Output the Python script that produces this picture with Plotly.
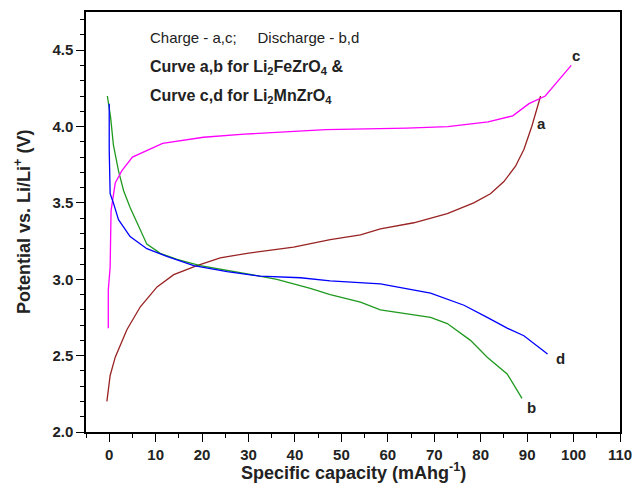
import plotly.graph_objects as go

# Curve a: charge, Li2FeZrO4
a_x = [-0.5, 0.2, 1.3, 3.8, 6.7, 10.3, 13.9, 18.9, 23.9, 29.7, 39.7, 47.6, 54.1, 58.4, 65.6, 72.8, 78.5, 82.1, 85.0, 87.5, 89.3, 91.0, 92.9]
a_y = [2.20, 2.37, 2.49, 2.67, 2.82, 2.95, 3.03, 3.09, 3.14, 3.17, 3.21, 3.26, 3.29, 3.33, 3.37, 3.43, 3.50, 3.56, 3.64, 3.74, 3.85, 4.00, 4.20]

# Curve b: discharge, Li2FeZrO4
b_x = [-0.4, 0.3, 0.9, 2.0, 3.1, 4.5, 6.0, 8.1, 11.0, 14.6, 19.6, 25.4, 31.1, 36.1, 43.3, 47.6, 54.1, 58.4, 69.2, 72.8, 77.8, 81.4, 85.7, 88.9]
b_y = [4.20, 4.06, 3.88, 3.71, 3.58, 3.47, 3.37, 3.23, 3.17, 3.13, 3.09, 3.06, 3.03, 3.00, 2.94, 2.90, 2.85, 2.80, 2.75, 2.71, 2.60, 2.49, 2.38, 2.22]

# Curve c: charge, Li2MnZrO4
c_x = [-0.2, -0.2, 0.2, 0.4, 1.3, 2.7, 5.0, 8.8, 11.5, 20.3, 29.1, 46.6, 64.1, 72.9, 81.6, 86.9, 90.4, 93.9, 99.5]
c_y = [2.68, 2.93, 3.08, 3.45, 3.63, 3.71, 3.80, 3.85, 3.89, 3.93, 3.95, 3.98, 3.99, 4.00, 4.03, 4.07, 4.15, 4.20, 4.40]

# Curve d: discharge, Li2MnZrO4
d_x = [0.0, 0.0, 0.2, 0.9, 2.0, 4.5, 8.1, 12.4, 18.2, 25.4, 32.5, 41.2, 47.6, 58.4, 69.2, 76.4, 81.4, 85.7, 89.3, 94.4]
d_y = [4.15, 3.85, 3.56, 3.50, 3.39, 3.28, 3.20, 3.15, 3.09, 3.05, 3.02, 3.01, 2.99, 2.97, 2.91, 2.83, 2.75, 2.68, 2.63, 2.51]

curve_labels = ["a", "b", "c", "d"]
colors = ["#992222", "#1f9a1f", "#ff00ff", "#0000ff"]

x_title = "<b>Specific capacity (mAhg<sup>-1</sup>)</b>"
y_title = "<b>Potential vs. Li/Li<sup>+</sup> (V)</b>"

fig = go.Figure()
for xs, ys, col in zip([a_x, b_x, c_x, d_x], [a_y, b_y, c_y, d_y], colors):
    fig.add_trace(go.Scatter(x=xs, y=ys, mode="lines", line=dict(color=col, width=1.3), showlegend=False))

# curve end labels
label_pos = [(92.9, 4.20, 1, 27), (88.9, 2.22, 9, 9), (99.5, 4.40, 5, -10), (94.4, 2.51, 13, 4)]
for lab, (lx, ly, dx, dy) in zip(curve_labels, label_pos):
    fig.add_annotation(x=lx, y=ly, text="<b>" + lab + "</b>", showarrow=False, xshift=dx, yshift=-dy,
                       font=dict(family="Arial", size=15, color="#222222"))

fig.add_annotation(xref="paper", yref="paper", x=0.116, y=0.939, xanchor="left", yanchor="middle",
                   text="Charge - a,c;     Discharge - b,d", showarrow=False,
                   font=dict(family="Arial", size=15, color="#222222"))
fig.add_annotation(xref="paper", yref="paper", x=0.116, y=0.869, xanchor="left", yanchor="middle",
                   text="<b>Curve a,b for Li<sub>2</sub>FeZrO<sub>4</sub> &amp;</b>", showarrow=False,
                   font=dict(family="Arial", size=16, color="#222222"))
fig.add_annotation(xref="paper", yref="paper", x=0.116, y=0.798, xanchor="left", yanchor="middle",
                   text="<b>Curve c,d for Li<sub>2</sub>MnZrO<sub>4</sub></b>", showarrow=False,
                   font=dict(family="Arial", size=16, color="#222222"))

# axis titles
fig.add_annotation(xref="paper", yref="paper", x=0.5, y=0, yanchor="middle", yshift=-39,
                   text=x_title, showarrow=False, font=dict(family="Arial", size=18, color="#222222"))
fig.add_annotation(xref="paper", yref="paper", x=0, y=0.5, xanchor="center", xshift=-64,
                   text=y_title, textangle=-90, showarrow=False,
                   font=dict(family="Arial", size=18, color="#222222"))

axis_common = dict(showline=True, linecolor="black", linewidth=1.5, mirror=True, ticks="outside",
                   ticklen=8, tickwidth=1.3, tickcolor="black", showgrid=False, zeroline=False,
                   automargin=False,
                   tickfont=dict(family="Arial", size=15, color="#222222"))

fig.update_xaxes(range=[-5, 110], dtick=10, tick0=0,
                 minor=dict(dtick=5, tick0=0, ticks="outside", ticklen=4, tickcolor="black"),
                 tickprefix="<b>", ticksuffix="</b>", **axis_common)
fig.update_yaxes(range=[2.0, 4.75], dtick=0.5, tick0=2.0, tickformat=".1f",
                 minor=dict(dtick=0.1, tick0=2.0, ticks="outside", ticklen=4, tickcolor="black"),
                 tickprefix="<b>", ticksuffix="</b>", **axis_common)

fig.update_layout(width=634, height=487, margin=dict(l=86, r=14, t=12, b=55),
                  plot_bgcolor="white", paper_bgcolor="white")

fig.write_html("out.html")
